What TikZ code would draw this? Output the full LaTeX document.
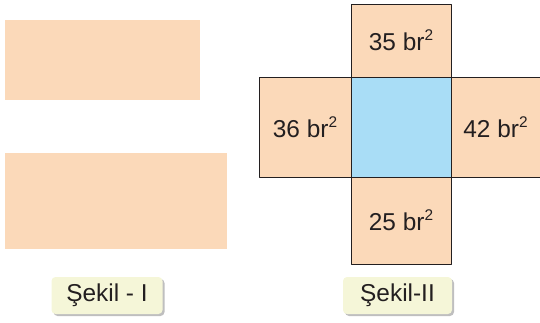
\documentclass[tikz,border=0pt]{standalone}
\usepackage{fontspec}
\setmainfont{Liberation Sans}
\usetikzlibrary{shadows}
\definecolor{ten}{HTML}{FBD9B9}
\definecolor{mavi}{HTML}{A9DDF6}
\definecolor{etiketrenk}{HTML}{F5F6D8}
\definecolor{yazi}{HTML}{231F20}
\newcommand{\ust}{\raisebox{0.42em}{\fontsize{15.5}{15.5}\selectfont 2}}
\tikzset{
  yuz/.style={draw=yazi, line width=0.8bp, fill=ten, inner sep=0pt, outer sep=0pt, anchor=north west},
  etiket/.style={fill=etiketrenk, rounded corners=4bp, inner sep=0pt, minimum height=37bp,
    drop shadow={shadow xshift=2bp, shadow yshift=-2bp, fill=black!25, opacity=1}}
}
\begin{document}
\begin{tikzpicture}[x=1bp, y=-1bp, font=\fontsize{24.5}{27}\selectfont, text=yazi, line join=round]
  \useasboundingbox (0,0) rectangle (540,322);
  % Sekil - I
  \fill[ten] (5,20) rectangle (200,100);
  \fill[ten] (5,153) rectangle (227,249);
  % Sekil - II
  \node[yuz, minimum width=100bp, minimum height=73bp] (ust) at (351,4) {};
  \node[yuz, minimum width=92bp, minimum height=100bp] (sol) at (259,77) {};
  \node[yuz, minimum width=89bp, minimum height=100bp] (sag) at (451,77) {};
  \node[yuz, minimum width=100bp, minimum height=87bp] (alt) at (351,177) {};
  \node[yuz, minimum width=100bp, minimum height=100bp, fill=mavi] (orta) at (351,77) {};
  \node (ustyazi) at (ust.center) {35 br\ust};
  \node (solyazi) at (sol.center) {36 br\ust};
  \node (sagyazi) at (sag.center) {42 br\ust};
  \node (altyazi) at (alt.center) {25 br\ust};
  % etiketler
  \node[etiket, minimum width=111bp] (etiket1) at (107,295.5) {Şekil - I};
  \node[etiket, minimum width=109bp] (etiket2) at (397.5,295.5) {Şekil-II};
\end{tikzpicture}
\end{document}
